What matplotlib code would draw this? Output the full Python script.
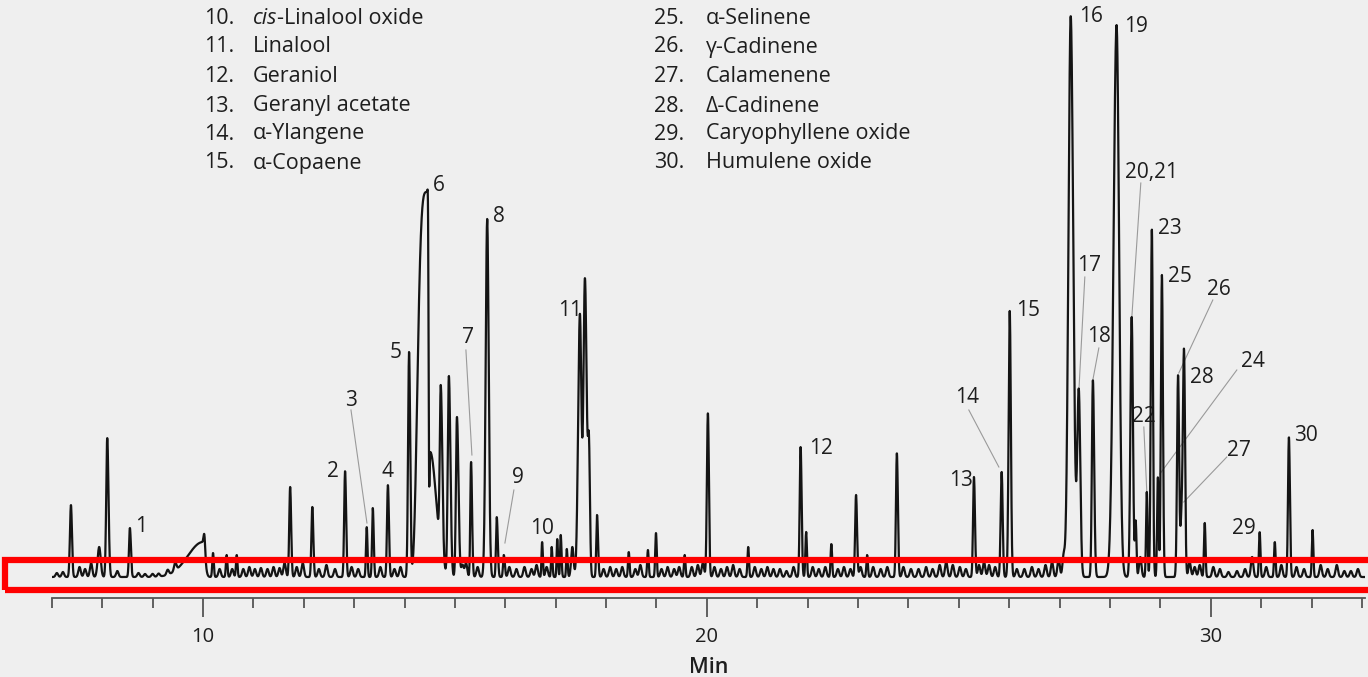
import numpy as np
import matplotlib
matplotlib.use("Agg")
import matplotlib.pyplot as plt
from matplotlib.patches import Rectangle
from matplotlib.ticker import FixedLocator

plt.rcParams['font.family'] = ['Open Sans', 'DejaVu Sans']

# ---------------- data ----------------
# main peaks: retention time (min), height (response), sigma left, sigma right
peak_rt = [7.38, 7.94, 8.10, 8.55, 10.00, 10.03, 10.20, 10.47, 10.67,
           11.73, 12.17, 12.82, 13.25, 13.37, 13.67, 14.09, 14.45, 14.51,
           14.72, 14.88, 15.04, 15.32, 15.64, 15.83, 15.97, 16.73, 16.92,
           17.03, 17.10, 17.22, 17.48, 17.58, 17.66, 17.82, 18.45, 18.83,
           18.99, 19.56, 20.02, 20.82, 21.86, 21.97, 22.47, 22.96, 23.18,
           23.77, 25.30, 25.85, 26.01, 27.22, 27.38, 27.66, 28.13, 28.43,
           28.51, 28.73, 28.83, 28.95, 29.03, 29.35, 29.43, 29.47, 29.88,
           30.97, 31.27, 31.55, 32.02]
peak_h = [72, 30, 139, 49, 35, 15, 24, 22, 22,
          90, 70, 106, 50, 69, 92, 225, 385, 125,
          165, 200, 160, 115, 358, 60, 22, 35, 30,
          38, 42, 28, 262, 298, 120, 62, 25, 27,
          44, 22, 164, 30, 130, 45, 33, 82, 22,
          124, 100, 105, 266, 561, 185, 197, 552, 260,
          55, 85, 348, 100, 302, 200, 70, 198, 54,
          45, 35, 140, 47]
peak_sl = [0.02, 0.03, 0.02, 0.018, 0.30, 0.015, 0.015, 0.015, 0.015,
           0.018, 0.018, 0.018, 0.015, 0.015, 0.018, 0.02, 0.18, 0.02,
           0.02, 0.022, 0.02, 0.015, 0.03, 0.015, 0.015, 0.012, 0.012,
           0.012, 0.012, 0.012, 0.035, 0.03, 0.02, 0.015, 0.015, 0.015,
           0.015, 0.015, 0.02, 0.015, 0.018, 0.015, 0.015, 0.018, 0.015,
           0.018, 0.018, 0.02, 0.022, 0.045, 0.03, 0.02, 0.06, 0.025,
           0.015, 0.015, 0.02, 0.015, 0.02, 0.02, 0.03, 0.02, 0.015,
           0.015, 0.015, 0.018, 0.015]
peak_sr = [0.02, 0.03, 0.025, 0.02, 0.04, 0.015, 0.015, 0.015, 0.015,
           0.02, 0.02, 0.02, 0.015, 0.018, 0.02, 0.022, 0.025, 0.12,
           0.03, 0.03, 0.03, 0.02, 0.03, 0.02, 0.02, 0.015, 0.015,
           0.015, 0.015, 0.015, 0.03, 0.035, 0.02, 0.02, 0.015, 0.015,
           0.015, 0.015, 0.02, 0.015, 0.02, 0.015, 0.015, 0.02, 0.015,
           0.02, 0.02, 0.02, 0.022, 0.05, 0.03, 0.025, 0.05, 0.025,
           0.015, 0.015, 0.02, 0.015, 0.02, 0.02, 0.03, 0.02, 0.015,
           0.015, 0.015, 0.02, 0.015]
# peak 6 is flat-topped (overloaded)
flat_rt = [14.45]

# small baseline bumps: retention time, height
bump_rt = [7.10, 7.22, 7.55, 7.66, 7.78, 8.30, 8.72, 8.85, 9.00, 9.12, 9.30, 9.45,
           10.33, 10.58, 10.80, 10.92, 11.03, 11.15, 11.28, 11.40, 11.52, 11.62,
           11.86, 11.98, 12.30, 12.45, 12.62, 12.95, 13.08, 13.52, 13.80, 13.92,
           15.15, 15.22, 15.45, 16.08, 16.22, 16.38, 16.52, 16.62, 16.82, 17.33,
           17.95, 18.08, 18.20, 18.32, 18.58, 18.68, 19.10, 19.22, 19.35, 19.45,
           19.70, 19.82, 19.92, 20.15, 20.28, 20.40, 20.52, 20.65, 20.95, 21.08,
           21.20, 21.32, 21.45, 21.58, 21.72, 22.10, 22.22, 22.35, 22.60, 22.72,
           22.85, 23.05, 23.30, 23.45, 23.58, 23.90, 24.05, 24.20, 24.35, 24.48,
           24.62, 24.75, 24.88, 25.02, 25.14, 25.40, 25.50, 25.60, 25.72, 26.15,
           26.30, 26.45, 26.58, 26.72, 26.85, 26.98, 27.08, 28.60, 29.58, 29.68,
           29.78, 30.05, 30.18, 30.35, 30.52, 30.68, 30.82, 31.10, 31.40, 31.70,
           31.85, 32.18, 32.32, 32.50, 32.65, 32.78, 32.92]
bump_h = [4, 5, 10, 8, 14, 6, 4, 3, 3, 3, 5, 8,
          8, 8, 8, 10, 8, 9, 8, 10, 9, 14,
          10, 14, 8, 12, 8, 10, 8, 10, 8, 10,
          12, 14, 10, 10, 8, 10, 8, 12, 10, 30,
          8, 10, 8, 10, 8, 12, 8, 10, 8, 10,
          10, 12, 14, 10, 8, 10, 12, 8, 10, 8,
          10, 8, 8, 6, 10, 10, 8, 10, 8, 10,
          8, 10, 10, 8, 10, 10, 8, 8, 10, 8,
          12, 15, 12, 10, 8, 12, 15, 12, 10, 8,
          8, 10, 8, 12, 15, 18, 20, 20, 15, 10,
          12, 10, 8, 5, 6, 8, 20, 10, 12, 10,
          8, 12, 8, 12, 6, 6, 8]

# peak labels: text, x (min, left edge), y (response, centre)
label_txt = ['1', '2', '3', '4', '5', '6', '7', '8', '9', '10', '11', '12', '13', '14',
             '15', '16', '17', '18', '19', '20,21', '22', '23', '24', '25', '26', '27',
             '28', '29', '30']
label_x = [8.651, 12.460, 12.817, 13.552, 13.710, 14.563, 15.139, 15.754, 16.131,
           16.488, 17.044, 22.024, 24.802, 24.921, 26.131, 27.381, 27.341, 27.540,
           28.274, 28.294, 28.433, 28.949, 30.595, 29.147, 29.921, 30.318, 29.583,
           30.417, 31.647]
label_y = [50, 106, 177, 106, 225, 392, 240, 361, 100, 48, 267, 129, 97, 180,
           267, 561, 312, 241, 551, 405, 161, 349, 216, 301, 288, 127, 200, 49, 142]

# leader lines: (x0, y0) -> (x1, y1)
lead_x0 = [12.937, 15.218, 16.170, 25.198, 27.500, 27.778, 28.611, 28.671, 30.516, 30.040, 30.318]
lead_y0 = [167, 227, 87, 167, 300, 229, 394, 150, 207, 277, 120]
lead_x1 = [13.254, 15.337, 15.992, 25.794, 27.381, 27.659, 28.433, 28.730, 28.988, 29.365, 29.464]
lead_y1 = [54, 122, 34, 110, 185, 197, 260, 85, 103, 204, 75]

legend_num1 = ['10.', '11.', '12.', '13.', '14.', '15.']
legend_name1 = ['-Linalool oxide', 'Linalool', 'Geraniol', 'Geranyl acetate',
                'α-Ylangene', 'α-Copaene']
legend_num2 = ['25.', '26.', '27.', '28.', '29.', '30.']
legend_name2 = ['α-Selinene', 'γ-Cadinene', 'Calamenene', 'Δ-Cadinene',
                'Caryophyllene oxide', 'Humulene oxide']

# ---------------- build trace ----------------
t = np.linspace(7.0, 33.06, 8000)
sig = np.zeros_like(t)
for rt, h, sl, sr in zip(peak_rt, peak_h, peak_sl, peak_sr):
    d = t - rt
    s = np.where(d < 0, sl, sr)
    p = 4.0 if rt in flat_rt else 2.0
    sig += h * np.exp(-0.5 * np.abs(d / s) ** p)
for rt, h in zip(bump_rt, bump_h):
    sig += h * np.exp(-0.5 * ((t - rt) / 0.024) ** 2)

# ---------------- figure ----------------
W, H = 1368, 677
fig = plt.figure(figsize=(W / 100, H / 100), dpi=100)
bg = '#efefef'
ink = '#1e1e1e'
fig.patch.set_facecolor(bg)

ax_left, ax_right = 51.8, 1365.0
ax_top, ax_bot = 0.0, 598.0
ax = fig.add_axes([ax_left / W, 1 - ax_bot / H, (ax_right - ax_left) / W, (ax_bot - ax_top) / H])
ax.set_facecolor(bg)
ax.set_xlim(7.0, 33.06)
ax.set_ylim(-21, 577)

ax.plot(t, sig, color='#141414', lw=1.6, zorder=3)

for x0, y0, x1, y1 in zip(lead_x0, lead_y0, lead_x1, lead_y1):
    ax.plot([x0, x1], [y0, y1], color='#9a9a9a', lw=0.8, zorder=2)

for s, x, y in zip(label_txt, label_x, label_y):
    ax.text(x, y, s, fontsize=15, color=ink, ha='left', va='center', zorder=1)

for sp in ['top', 'right', 'left']:
    ax.spines[sp].set_visible(False)
ax.spines['bottom'].set_color('#555555')
ax.spines['bottom'].set_linewidth(1.3)
ax.set_yticks([])
ax.xaxis.set_major_locator(FixedLocator([10, 20, 30]))
ax.xaxis.set_minor_locator(FixedLocator([v for v in range(7, 34) if v % 10 != 0]))
ax.tick_params(axis='x', which='major', length=14, width=1.3, color='#555555',
               labelsize=14.5, labelcolor=ink, pad=7)
ax.tick_params(axis='x', which='minor', length=7.5, width=1.3, color='#555555')
ax.set_xlabel('Min', fontsize=15.5, fontweight='semibold', color=ink, labelpad=7)

# legend text block
row_y = [18, 47, 77, 106, 134, 163]
FS = 15.5
def fy(py):
    return 1 - py / H
for i, (n, nm) in enumerate(zip(legend_num1, legend_name1)):
    fig.text(204 / W, fy(row_y[i]), n, fontsize=FS, color=ink, va='center', ha='left')
    if i == 0:
        it = fig.text(253 / W, fy(row_y[i]), 'cis', fontsize=FS, color=ink,
                      va='center', ha='left', style='italic')
        fig.canvas.draw()
        bb = it.get_window_extent()
        fig.text(bb.x1 / W, bb.y0 / H, nm, fontsize=FS, color=ink, va='bottom', ha='left')
    else:
        fig.text(253 / W, fy(row_y[i]), nm, fontsize=FS, color=ink, va='center', ha='left')
for i, (n, nm) in enumerate(zip(legend_num2, legend_name2)):
    fig.text(654 / W, fy(row_y[i]), n, fontsize=FS, color=ink, va='center', ha='left')
    fig.text(706 / W, fy(row_y[i]), nm, fontsize=FS, color=ink, va='center', ha='left')

# red highlight box
rect = Rectangle((5 / W, 1 - 590 / H), 1.1, 30 / H, transform=fig.transFigure,
                 fill=False, edgecolor='#ff0000', lw=4.5, zorder=10, clip_on=False)
fig.add_artist(rect)

fig.savefig('out.png', dpi=100, facecolor=bg)
